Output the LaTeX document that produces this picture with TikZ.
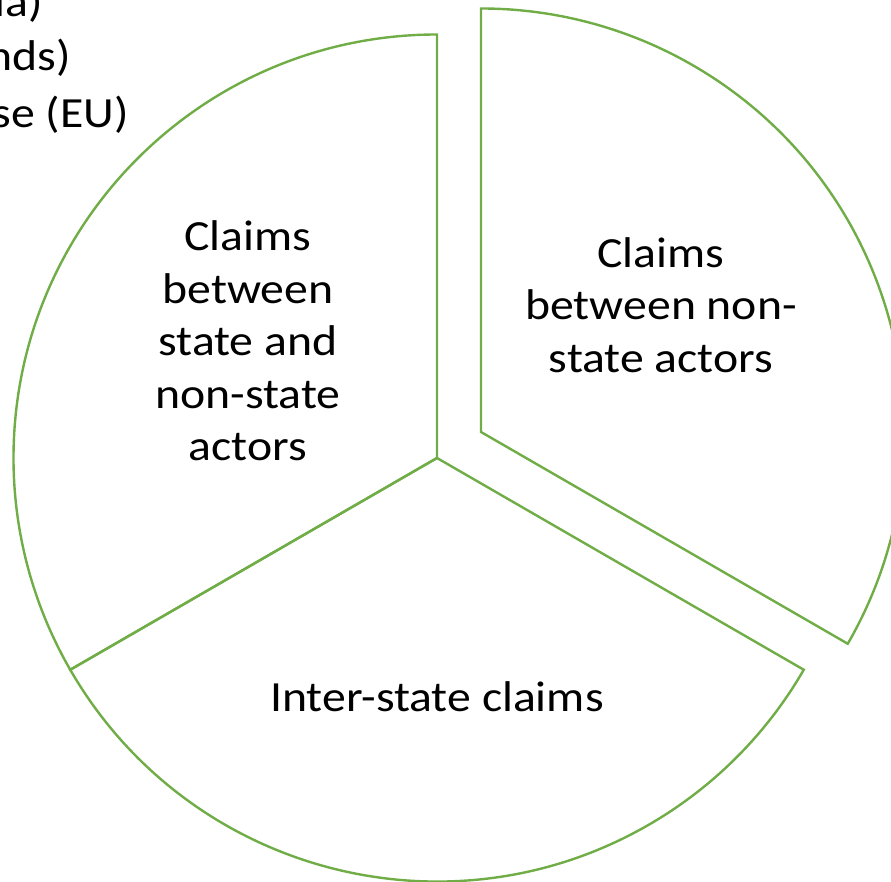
\documentclass[tikz,border=0pt]{standalone}
\usepackage{fontspec}
\setmainfont[FakeStretch=1.11]{Carlito}
\begin{document}
\begin{tikzpicture}[x=1pt,y=1pt,
  sector/.style={draw=piegreen,line width=2.4pt,line join=miter},
  lbl/.style={align=center,font=\fontsize{43}{52.5}\selectfont,inner sep=0pt},
  frag/.style={anchor=base east,font=\fontsize{43}{52.5}\selectfont,inner sep=0pt}]
\definecolor{piegreen}{HTML}{70AD47}
\useasboundingbox (0,0) rectangle (891,881);
\def\R{423.5}
\coordinate (C) at (437,423);
\coordinate (D) at (481,449);
\draw[sector] (C) -- ++(90:\R) arc[start angle=90,end angle=210,radius=\R] -- cycle;
\draw[sector] (C) -- ++(210:\R) arc[start angle=210,end angle=330,radius=\R] -- cycle;
\draw[sector] (D) -- ++(-30:\R) arc[start angle=-30,end angle=90,radius=\R] -- cycle;
\node[lbl] (a) at (248,540) {Claims\\between\\state and\\non-state\\actors};
\node[lbl] (b) at (661,576) {Claims\\between non-\\state actors};
\node[lbl] (c) at (437,184) {Inter-state claims};
\node[frag] (t1) at (43,864) {ia)};
\node[frag] (t2) at (71,810) {nds)};
\node[frag] (t3) at (129,753) {se (EU)};
\end{tikzpicture}
\end{document}
